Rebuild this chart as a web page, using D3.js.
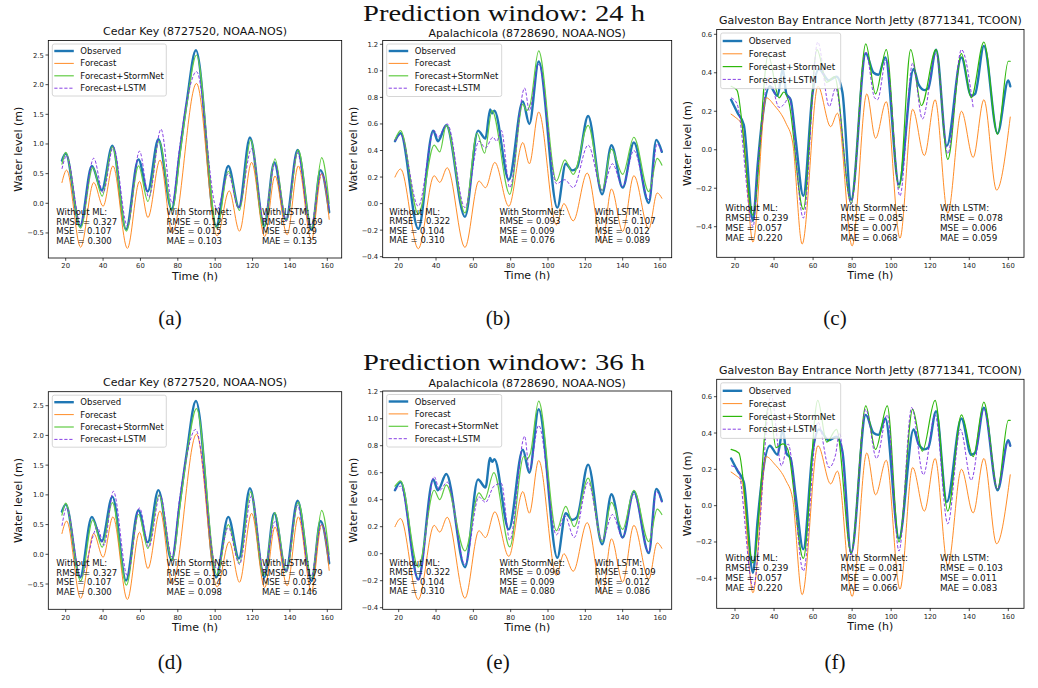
<!DOCTYPE html>
<html><head><meta charset="utf-8">
<script src="https://cdn.jsdelivr.net/npm/d3@7"></script>
<style>body{margin:0;background:#fff} svg{display:block}</style>
</head><body>
<svg id="fig" width="1038" height="688"></svg>
<script>
// ---------------- DATA ----------------
const seriesNames = ["Observed","Forecast","Forecast+StormNet","Forecast+LSTM"];
const xTicks = [20,40,60,80,100,120,140,160];
const yTicksCedar = [-0.5,0,0.5,1,1.5,2,2.5];
const yTicksApal = [-0.4,-0.2,0,0.2,0.4,0.6,0.8,1.0,1.2];
const yTicksGalv = [-0.4,-0.2,0,0.2,0.4,0.6];
const stationTitles = ["Cedar Key (8727520, NOAA-NOS)","Apalachicola (8728690, NOAA-NOS)","Galveston Bay Entrance North Jetty (8771341, TCOON)"];
const windowTitles = ["Prediction window: 24 h","Prediction window: 36 h"];
const panelLabels = ["(a)","(b)","(c)","(d)","(e)","(f)"];

// Cedar Key
const cedarObserved = [[18,0.72],[20,0.84],[27.7,-0.39],[34,0.63],[39.3,0.22],[45,0.97],[52.3,-0.44],[58.9,0.74],[63.9,0.2],[69.6,1.08],[76.7,-0.1],[81,0.85],[84.7,1.69],[89.7,2.58],[100.5,-0.39],[107,0.63],[112.7,-0.07],[118.6,1.11],[126.3,-0.39],[131.6,0.69],[137.9,-0.28],[144.1,0.9],[151.6,-0.45],[156.4,0.56],[161,-0.15]];
const cedarForecast = [[18,0.35],[20.5,0.56],[28,-0.74],[35,0.35],[40,-0.05],[45.3,0.63],[53,-0.76],[59.5,0.37],[64,-0.24],[70.5,0.73],[77,-0.5],[90,2.02],[101,-0.55],[107.5,0.21],[113,-0.47],[119.5,0.69],[126.5,-0.56],[132,0.46],[138.5,-0.53],[144.5,0.63],[151.5,-0.62],[157,0.5],[161,-0.27]];
const cedarStormNet24 = [[18,0.66],[20,0.86],[28,-0.42],[34.5,0.6],[39.5,0.12],[45,0.95],[52.5,-0.47],[59,0.63],[64,0.03],[70,1.05],[77,-0.12],[81.5,0.9],[85,1.7],[90,2.5],[101,-0.42],[107,0.54],[113,-0.12],[119,1.07],[126,-0.4],[132,0.75],[138,-0.3],[144.5,0.9],[151.5,-0.42],[157,0.77],[161,0.0]];
const cedarLSTM24 = [[18,0.58],[20.5,0.8],[28,-0.35],[35,0.76],[40,0.18],[45.5,0.95],[53,-0.38],[59.5,0.88],[64.5,0.1],[71,1.25],[77,0.0],[81,0.95],[85,1.75],[90,2.22],[101,-0.1],[107,0.5],[112.5,-0.08],[119.5,0.92],[126,-0.3],[132,0.66],[138,-0.3],[144,0.85],[151,-0.4],[157,0.5],[161,-0.1]];
const cedarStormNet36 = [[18,0.66],[20,0.86],[28,-0.45],[34.5,0.58],[39.5,0.12],[45,0.87],[52.5,-0.52],[59,0.67],[64,0.1],[70,1.0],[77,-0.1],[81.5,0.9],[85,1.7],[90,2.45],[101,-0.35],[107,0.5],[113,-0.15],[119,1.05],[126,-0.35],[132,0.7],[138,-0.3],[144.5,0.88],[151.5,-0.4],[157,0.74],[161,0.0]];
const cedarLSTM36 = [[18,0.48],[20.5,0.78],[28,-0.38],[37,0.45],[40.5,0.15],[45.5,1.06],[53,-0.36],[59.5,0.78],[64.5,0.12],[70.5,1.0],[77,-0.05],[81,0.95],[85,1.7],[89.5,2.1],[101,-0.25],[107,0.45],[113,-0.17],[119.5,0.98],[126,-0.3],[132,0.55],[138,-0.3],[144,0.82],[151,-0.4],[157,0.5],[161,-0.1]];

// Apalachicola
const apalObserved = [[18,0.47],[21,0.53],[30.5,-0.19],[38.5,0.55],[41,0.47],[45.5,0.59],[55.5,-0.1],[62.5,0.55],[66.5,0.49],[69,0.71],[70,0.68],[71.3,0.7],[79,0.18],[86.5,0.77],[90,0.6],[95,1.07],[105,-0.03],[109.5,0.3],[113,0.25],[115.5,0.27],[121.5,0.66],[129,0.07],[134,0.44],[140,0.12],[146,0.46],[154,0.005],[158,0.48],[161,0.39]];
const apalForecast = [[18,0.2],[21,0.26],[30.5,-0.34],[39,0.21],[42,0.16],[46,0.27],[55.5,-0.33],[63,0.17],[66.5,0.12],[71.5,0.31],[79,-0.02],[86.5,0.46],[90,0.3],[95,0.69],[104.5,-0.16],[108.5,0.0],[113.5,-0.13],[121,0.23],[129,-0.3],[134,0.11],[140,-0.21],[146,0.21],[154,-0.19],[158.5,0.08],[161,0.04]];
const apalStormNet24 = [[18,0.48],[21,0.55],[30.5,-0.08],[39,0.44],[42,0.39],[45.5,0.59],[55.5,-0.07],[62,0.53],[66,0.38],[70,0.7],[79.5,0.07],[86.5,0.75],[88.5,0.7],[90.5,0.75],[95,1.15],[104.5,0.17],[109,0.33],[113.5,0.22],[121.5,0.59],[129,0.1],[134,0.41],[140,0.22],[146,0.5],[154,0.09],[158.5,0.34],[161,0.29]];
const apalLSTM24 = [[18,0.47],[21,0.52],[30.5,-0.02],[39,0.55],[41,0.5],[46,0.6],[55.5,-0.03],[63,0.47],[66.5,0.42],[70.5,0.5],[72.5,0.47],[75,0.55],[79.5,0.12],[87.5,0.87],[90,0.7],[95,1.05],[104.5,0.15],[109,0.18],[113.5,0.12],[121.5,0.44],[129,0.1],[134.5,0.3],[140,0.13],[146,0.4],[154,0.03],[158.5,0.45],[161,0.38]];
const apalStormNet36 = [[18,0.5],[21,0.54],[30.5,-0.1],[39,0.47],[42,0.4],[45.5,0.51],[55.5,0.02],[63,0.45],[66,0.4],[71,0.6],[79.5,0.05],[87,0.72],[88.5,0.7],[90.5,0.74],[95,1.13],[104.5,0.17],[109.5,0.35],[114,0.2],[121.5,0.56],[129,0.09],[134,0.38],[140,0.18],[146,0.47],[154,0.09],[158.5,0.33],[161,0.29]];
const apalLSTM36 = [[18,0.47],[21,0.5],[30.5,-0.2],[39,0.57],[42,0.47],[46,0.53],[55.5,-0.08],[63,0.42],[66.5,0.38],[71,0.5],[75,0.52],[79.5,0.1],[87.5,0.87],[90,0.62],[95,0.95],[104.5,0.14],[109,0.28],[114,0.12],[121.5,0.53],[129,0.1],[134.5,0.29],[140,0.12],[146,0.44],[154,0.01],[158,0.46],[161,0.38]];

// Galveston
const galvObserved = [[18,0.26],[21.4,0.19],[24.5,0.13],[29.2,-0.37],[31.6,-0.08],[33.3,0.1],[37.8,0.33],[41.8,0.28],[44.5,0.42],[46.3,0.29],[48.5,0.26],[51,0.06],[55,-0.24],[59.8,0.3],[63,0.42],[68,0.36],[72,0.38],[75,0.3],[79.5,-0.26],[87,0.5],[91,0.4],[93.5,0.39],[97,0.48],[104,-0.18],[111.5,0.42],[114,0.34],[117,0.31],[119,0.32],[123,0.52],[128.5,0.02],[136,0.48],[141,0.28],[143,0.29],[147.5,0.54],[154.5,0.085],[160,0.36],[161,0.33]];
const galvForecast = [[18,0.185],[20,0.17],[23.5,0.13],[29.2,-0.48],[36,0.27],[40.2,0.23],[46,0.14],[49.5,0.04],[54.4,-0.49],[62.5,0.33],[69,0.12],[72.5,0.19],[80,-0.5],[87.5,0.29],[92,0.06],[97.5,0.25],[104.5,-0.46],[111,0.21],[117,-0.03],[122.5,0.26],[129,-0.33],[136,0.2],[142,-0.04],[147.5,0.26],[154,-0.21],[161,0.17]];
const galvStormNet24 = [[18,0.33],[21,0.31],[29.2,-0.34],[37,0.49],[42.6,0.27],[45,0.3],[47.5,0.25],[55,-0.31],[62,0.52],[67,0.35],[71,0.38],[79.5,-0.28],[87,0.55],[92,0.29],[97.5,0.52],[104,-0.2],[110,0.52],[115.5,0.23],[123,0.52],[129,-0.05],[136,0.5],[141,0.27],[147.5,0.56],[154.5,0.08],[160,0.46],[161,0.46]];
const galvLSTM24 = [[18,0.27],[21,0.24],[29.3,-0.4],[31.6,-0.11],[37.5,0.38],[42.6,0.22],[46,0.25],[47.5,0.28],[55,-0.355],[62.4,0.56],[68.3,0.225],[71.5,0.32],[79.5,-0.28],[87,0.51],[91.5,0.27],[93,0.26],[97.5,0.47],[104.5,-0.24],[111,0.45],[116,0.16],[123,0.5],[129,-0.02],[136,0.52],[142,0.22]];
const galvStormNet36 = [[18,0.31],[22,0.29],[29.2,-0.315],[37.5,0.56],[41,0.32],[44.5,0.34],[47,0.31],[55,-0.29],[62.4,0.58],[67,0.35],[72,0.42],[79.5,-0.26],[87,0.55],[92,0.31],[98,0.55],[104,-0.2],[111,0.53],[116,0.3],[122.5,0.58],[129,-0.03],[136,0.5],[142,0.27],[147.5,0.57],[154.5,0.09],[160,0.47],[161,0.47]];
const galvLSTM36 = [[18,0.22],[21.5,0.2],[29.3,-0.45],[38.5,0.61],[43.8,0.22],[47.2,0.34],[55,-0.36],[62.5,0.46],[68.2,0.21],[71.5,0.28],[73.5,0.4],[79.5,-0.27],[87,0.53],[92.5,0.26],[98,0.5],[104,-0.25],[110.5,0.54],[116.5,0.17],[122.5,0.5],[129,-0.1],[135.5,0.42],[141,0.14],[147.5,0.53],[154.5,0.09],[160,0.35],[161,0.33]];

// Error statistics text (Without ML / With StormNet / With LSTM)
const statsA = ["Without ML:|RMSE = 0.327|MSE = 0.107|MAE = 0.300","With StormNet:|RMSE = 0.123|MSE = 0.015|MAE = 0.103","With LSTM:|RMSE = 0.169|MSE = 0.029|MAE = 0.135"];
const statsB = ["Without ML:|RMSE = 0.322|MSE = 0.104|MAE = 0.310","With StormNet:|RMSE = 0.093|MSE = 0.009|MAE = 0.076","With LSTM:|RMSE = 0.107|MSE = 0.012|MAE = 0.089"];
const statsC = ["Without ML:|RMSE = 0.239|MSE = 0.057|MAE = 0.220","With StormNet:|RMSE = 0.085|MSE = 0.007|MAE = 0.068","With LSTM:|RMSE = 0.078|MSE = 0.006|MAE = 0.059"];
const statsD = ["Without ML:|RMSE = 0.327|MSE = 0.107|MAE = 0.300","With StormNet:|RMSE = 0.120|MSE = 0.014|MAE = 0.098","With LSTM:|RMSE = 0.179|MSE = 0.032|MAE = 0.146"];
const statsE = ["Without ML:|RMSE = 0.322|MSE = 0.104|MAE = 0.310","With StormNet:|RMSE = 0.096|MSE = 0.009|MAE = 0.080","With LSTM:|RMSE = 0.109|MSE = 0.012|MAE = 0.086"];
const statsF = ["Without ML:|RMSE = 0.239|MSE = 0.057|MAE = 0.220","With StormNet:|RMSE = 0.081|MSE = 0.007|MAE = 0.066","With LSTM:|RMSE = 0.103|MSE = 0.011|MAE = 0.083"];
const statsX = [15, 74, 125];

// ---------------- LAYOUT ----------------
const C_OBS = "#1f77b4", C_FC = "#ff7f0e", C_LSTM = "#7b2be2";
const panels = [
 {title:stationTitles[0], data:[cedarObserved,cedarForecast,cedarStormNet24,cedarLSTM24], stats:statsA, yTicks:yTicksCedar,
  box:{l:48.3,r:341.7,t:40.5,b:258}, xm:[65.7,327.3], ym:[[0,203.3],[2.5,55]], green:"#62cc45", fs:8.5, ls:9.4, statOff:45.7, lg:{w:114,h:52,dy:12.4,y0:7}, ylx:18.3, lab:[170,318], tOff:5.5},
 {title:stationTitles[1], data:[apalObserved,apalForecast,apalStormNet24,apalLSTM24], stats:statsB, yTicks:yTicksApal,
  box:{l:382.7,r:671.7,t:40.5,b:257.7}, xm:[398.7,660], ym:[[-0.4,256.7],[1.2,44.3]], green:"#62cc45", fs:8.5, ls:9.4, statOff:46, lg:{w:115,h:52.5,dy:12.4,y0:7}, ylx:353.3, lab:[498,318], tOff:4},
 {title:stationTitles[2], data:[galvObserved,galvForecast,galvStormNet24,galvLSTM24], stats:statsC, yTicks:yTicksGalv,
  box:{l:716.7,r:1024,t:29.5,b:257.3}, xm:[735,1008.3], ym:[[-0.4,226.7],[0.6,34.3]], green:"#2eb80c", fs:8.8, ls:10, statOff:49, lg:{w:120,h:55.6,dy:12.8,y0:8}, ylx:687.3, lab:[835,318], tOff:5.5},
 {title:stationTitles[0], data:[cedarObserved,cedarForecast,cedarStormNet36,cedarLSTM36], stats:statsD, yTicks:yTicksCedar,
  box:{l:48.3,r:341.7,t:391.7,b:609.3}, xm:[65.7,327.3], ym:[[0,554.3],[2.5,405.7]], green:"#62cc45", fs:8.5, ls:9.4, statOff:46, lg:{w:114,h:52,dy:12.4,y0:7}, ylx:18.3, lab:[170,662], tOff:5.5},
 {title:stationTitles[1], data:[apalObserved,apalForecast,apalStormNet36,apalLSTM36], stats:statsE, yTicks:yTicksApal,
  box:{l:382.7,r:671.7,t:391,b:609.3}, xm:[398.7,660], ym:[[-0.4,607.7],[1.2,391.7]], green:"#62cc45", fs:8.5, ls:9.4, statOff:46.5, lg:{w:115,h:52.5,dy:12.4,y0:7}, ylx:353.3, lab:[498,662], tOff:4.5},
 {title:stationTitles[2], data:[galvObserved,galvForecast,galvStormNet36,galvLSTM36], stats:statsF, yTicks:yTicksGalv,
  box:{l:716.7,r:1024,t:379.3,b:608.3}, xm:[735,1008.3], ym:[[-0.4,578.3],[0.6,396.7]], green:"#2eb80c", fs:8.8, ls:10, statOff:50, lg:{w:120,h:55.6,dy:12.8,y0:8}, ylx:687.3, lab:[835,662], tOff:5.5}
];

const svg = d3.select("#fig");
const SANS = "DejaVu Sans, sans-serif";
const fmt = v => { const s = d3.format(".1f")(Math.abs(v)); return (v < -1e-9 ? "\u2212" : "") + s; };

// big window titles
[[504, 21],[504, 370]].forEach((p,i) => {
  svg.append("text").attr("x",p[0]).attr("y",p[1]).attr("text-anchor","middle")
    .attr("font-family","Liberation Serif, serif").attr("font-size",23.5)
    .attr("textLength",282).attr("lengthAdjust","spacingAndGlyphs")
    .attr("fill","#111").text(windowTitles[i]);
});

panels.forEach((P, pi) => {
  const B = P.box;
  const x = d3.scaleLinear().domain([20,160]).range(P.xm);
  const y = d3.scaleLinear().domain([P.ym[0][0], P.ym[1][0]]).range([P.ym[0][1], P.ym[1][1]]);
  const g = svg.append("g");
  const cid = "clip"+pi;
  g.append("clipPath").attr("id",cid).append("rect")
    .attr("x",B.l).attr("y",B.t).attr("width",B.r-B.l).attr("height",B.b-B.t);

  const line = d3.line().x(d=>x(d[0])).y(d=>y(d[1])).curve(d3.curveMonotoneX);
  const styles = [
    {c:C_OBS, w:2.4, dash:null},
    {c:C_FC, w:0.9, dash:null},
    {c:P.green, w:1.2, dash:null},
    {c:C_LSTM, w:0.9, dash:"3.2,1.8"}
  ];
  const lg = g.append("g").attr("clip-path",`url(#${cid})`);
  P.data.forEach((ser, si) => {
    lg.append("path").attr("d", line(ser)).attr("fill","none")
      .attr("stroke", styles[si].c).attr("stroke-width", styles[si].w)
      .attr("stroke-dasharray", styles[si].dash)
      .attr("stroke-linejoin","round").attr("stroke-linecap", styles[si].dash ? "butt":"round");
  });

  // stats text
  P.stats.forEach((s, k) => {
    const t = g.append("text").attr("font-family",SANS).attr("font-size",P.fs).attr("fill","#111");
    s.split("|").forEach((ln, j) => {
      t.append("tspan").attr("x", x(statsX[k])).attr("y", B.b - P.statOff + j*P.ls + P.fs*0.36).text(ln);
    });
  });

  // legend
  const L = P.lg, lx = B.l + 4, ly = B.t + 3.5;
  g.append("rect").attr("x",lx).attr("y",ly).attr("width",L.w).attr("height",L.h).attr("rx",2)
    .attr("fill","#fff").attr("fill-opacity",0.8).attr("stroke","#cccccc").attr("stroke-width",0.8);
  seriesNames.forEach((nm, si) => {
    const yy = ly + L.y0 + si*L.dy;
    g.append("line").attr("x1",lx+2).attr("x2",lx+21.5).attr("y1",yy).attr("y2",yy)
      .attr("stroke",styles[si].c).attr("stroke-width",styles[si].w).attr("stroke-dasharray",styles[si].dash);
    g.append("text").attr("x",lx+28).attr("y",yy + P.fs*0.36).attr("font-family",SANS)
      .attr("font-size",P.fs).attr("fill","#111").text(nm);
  });

  // frame
  g.append("rect").attr("x",B.l).attr("y",B.t).attr("width",B.r-B.l).attr("height",B.b-B.t)
    .attr("fill","none").attr("stroke","#000").attr("stroke-width",0.8);

  // x axis ticks
  xTicks.forEach(v => {
    const px = x(v);
    g.append("line").attr("x1",px).attr("x2",px).attr("y1",B.b).attr("y2",B.b+2.8).attr("stroke","#000").attr("stroke-width",0.7);
    g.append("text").attr("x",px).attr("y",B.b+10.4).attr("text-anchor","middle").attr("font-family",SANS)
      .attr("font-size",6.8).attr("fill","#222").text(v);
  });
  P.yTicks.forEach(v => {
    const py = y(v);
    g.append("line").attr("x1",B.l-2.8).attr("x2",B.l).attr("y1",py).attr("y2",py).attr("stroke","#000").attr("stroke-width",0.7);
    g.append("text").attr("x",B.l-4.5).attr("y",py+2.5).attr("text-anchor","end").attr("font-family",SANS)
      .attr("font-size",6.8).attr("fill","#222").text(fmt(v));
  });

  // labels
  g.append("text").attr("x",(B.l+B.r)/2).attr("y",B.t-P.tOff).attr("text-anchor","middle")
    .attr("font-family",SANS).attr("font-size",11).attr("fill","#111").text(P.title);
  g.append("text").attr("x",(B.l+B.r)/2).attr("y",B.b+21.5).attr("text-anchor","middle")
    .attr("font-family",SANS).attr("font-size",11).attr("fill","#111").text("Time (h)");
  g.append("text").attr("transform",`translate(${P.ylx},${(B.t+B.b)/2}) rotate(-90)`)
    .attr("text-anchor","middle").attr("dominant-baseline","central")
    .attr("font-family",SANS).attr("font-size",11).attr("fill","#111").text("Water level (m)");

  // panel letter
  svg.append("text").attr("x",P.lab[0]).attr("y",P.lab[1]+7).attr("text-anchor","middle")
    .attr("font-family","Liberation Serif, serif").attr("font-size",21).attr("fill","#111").text(panelLabels[pi]);
});
</script>
</body></html>
